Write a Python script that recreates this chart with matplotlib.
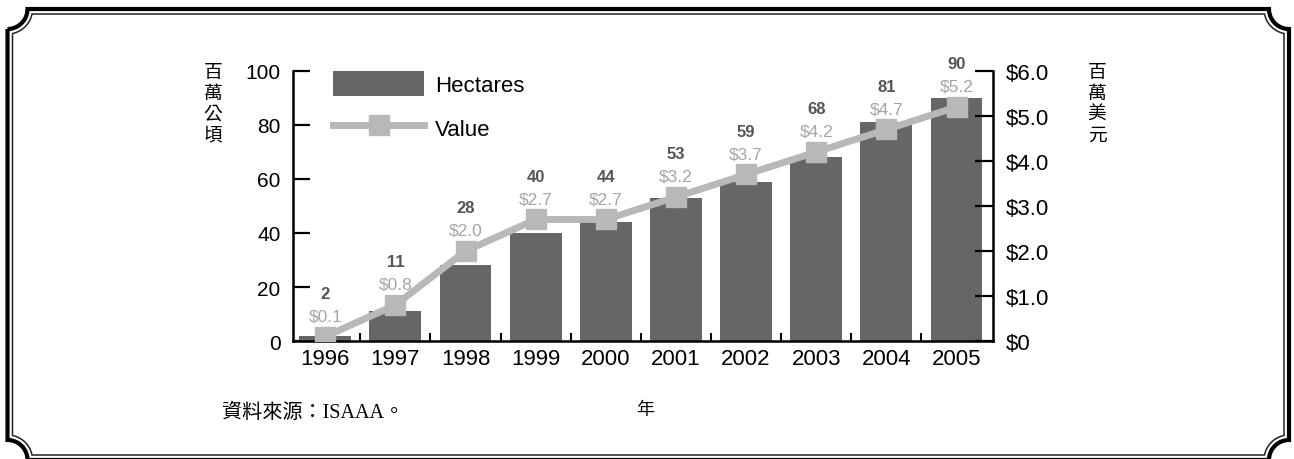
import numpy as np
import matplotlib
matplotlib.use("Agg")
import matplotlib.pyplot as plt
from matplotlib.path import Path
from matplotlib.patches import PathPatch

plt.rcParams['font.family'] = ['Liberation Sans', 'Noto Sans CJK TC']

# Data
years = ['1996', '1997', '1998', '1999', '2000', '2001', '2002', '2003', '2004', '2005']
hectares = [2, 11, 28, 40, 44, 53, 59, 68, 81, 90]  # million hectares
value = [0.1, 0.8, 2.0, 2.7, 2.7, 3.2, 3.7, 4.2, 4.7, 5.2]  # million US$
left_ticks = [0, 20, 40, 60, 80, 100]
right_ticks = [0, 1, 2, 3, 4, 5, 6]
right_labels = ['$0', '$1.0', '$2.0', '$3.0', '$4.0', '$5.0', '$6.0']

bar_color = '#666666'
line_color = '#b8b8b8'
cjk = ['Noto Sans CJK TC']

W, H = 1294, 460
fig = plt.figure(figsize=(W / 100, H / 100), dpi=100)


def frame_path(x0, y0, x1, y1, r, d):
    # concave corners centred on the outer corner points, line offset d inward
    R = r + d
    a = np.arcsin(d / R) if d > 0 else 0.0
    pts = []
    corners = [(x0, y0, np.pi / 2 - a, a), (x1, y0, np.pi - a, np.pi / 2 + a),
               (x1, y1, -np.pi / 2 - a, -np.pi + a), (x0, y1, -a, -np.pi / 2 + a)]
    for cx, cy, a0, a1 in corners:
        for t in np.linspace(a0, a1, 24):
            pts.append((cx + R * np.cos(t), cy + R * np.sin(t)))
    pts.append(pts[0])
    return Path(pts)


bg = fig.add_axes([0, 0, 1, 1])
bg.set_xlim(0, W)
bg.set_ylim(H, 0)
bg.axis('off')
bg.add_patch(PathPatch(frame_path(7.5, 10, 1289, 461, 20, 0), fill=False, lw=3.0, ec='black'))
bg.add_patch(PathPatch(frame_path(7.5, 10, 1289, 461, 20, 5), fill=False, lw=1.1, ec='#222222'))

# main axes
ax = fig.add_axes([293 / W, 1 - 342 / H, 700 / W, 270 / H])
x = np.arange(len(years))
bars = ax.bar(x, hectares, width=0.74, color=bar_color, label='Hectares', zorder=2)
ax.set_xlim(-0.46, 9.52)
ax.set_ylim(0, 100)
ax.set_yticks(left_ticks)
ax.set_xticks(x)
ax.set_xticklabels(years, fontsize=16)
ax.set_xticks(x[:-1] + 0.5, minor=True)
ax.tick_params(axis='x', which='major', length=0, pad=5)
ax.tick_params(axis='x', which='minor', direction='in', length=6, width=1.5)
ax.tick_params(axis='y', direction='in', length=12, width=1.6, labelsize=15, pad=9)
for s in ['top', 'right']:
    ax.spines[s].set_visible(False)
for s in ['left', 'bottom']:
    ax.spines[s].set_linewidth(1.8)

ax2 = ax.twinx()
ax2.set_ylim(0, 6)
line, = ax2.plot(x, value, color=line_color, lw=5, marker='s', markersize=15,
                 label='Value', zorder=3)
ax2.set_yticks(right_ticks)
ax2.set_yticklabels(right_labels)
ax2.tick_params(axis='y', direction='in', length=13, width=1.6, labelsize=16, pad=9)
for s in ['top', 'left', 'bottom']:
    ax2.spines[s].set_visible(False)
ax2.spines['right'].set_linewidth(1.8)

# data labels
for i in range(len(years)):
    ax2.annotate(f'${value[i]:.1f}', (x[i], value[i]), xytext=(0, 15), textcoords='offset points',
                 ha='center', va='center', fontsize=12.5, color='#a5a5a5')
    ax2.annotate(str(hectares[i]), (x[i], value[i]), xytext=(0, 31), textcoords='offset points',
                 ha='center', va='center', fontsize=12, color='#555555', fontweight='bold')

ax.legend([bars, line], ['Hectares', 'Value'], loc='upper left', bbox_to_anchor=(40 / 700, 1.0),
          frameon=False, fontsize=16, handlelength=4.1, handleheight=1.35, labelspacing=0.85,
          borderpad=0, borderaxespad=0, handletextpad=0.5)

# axis titles and notes
fig.text(213 / W, 1 - 104 / H, '百\n萬\n公\n頃', family=cjk, fontsize=13.5, ha='center', va='center',
         linespacing=0.98, fontweight='light')
fig.text(1097 / W, 1 - 104 / H, '百\n萬\n美\n元', family=cjk, fontsize=13.5, ha='center', va='center',
         linespacing=0.98, fontweight='light')
fig.text(645 / W, 1 - 410 / H, '年', family=cjk, fontsize=13, ha='center', va='center', fontweight='light')
fig.text(222 / W, 1 - 413 / H, '資料來源：ISAAA。', family=['Liberation Serif', 'Noto Sans CJK TC'],
         fontsize=14.5, ha='left', va='center')

fig.savefig('out.png', dpi=100)
